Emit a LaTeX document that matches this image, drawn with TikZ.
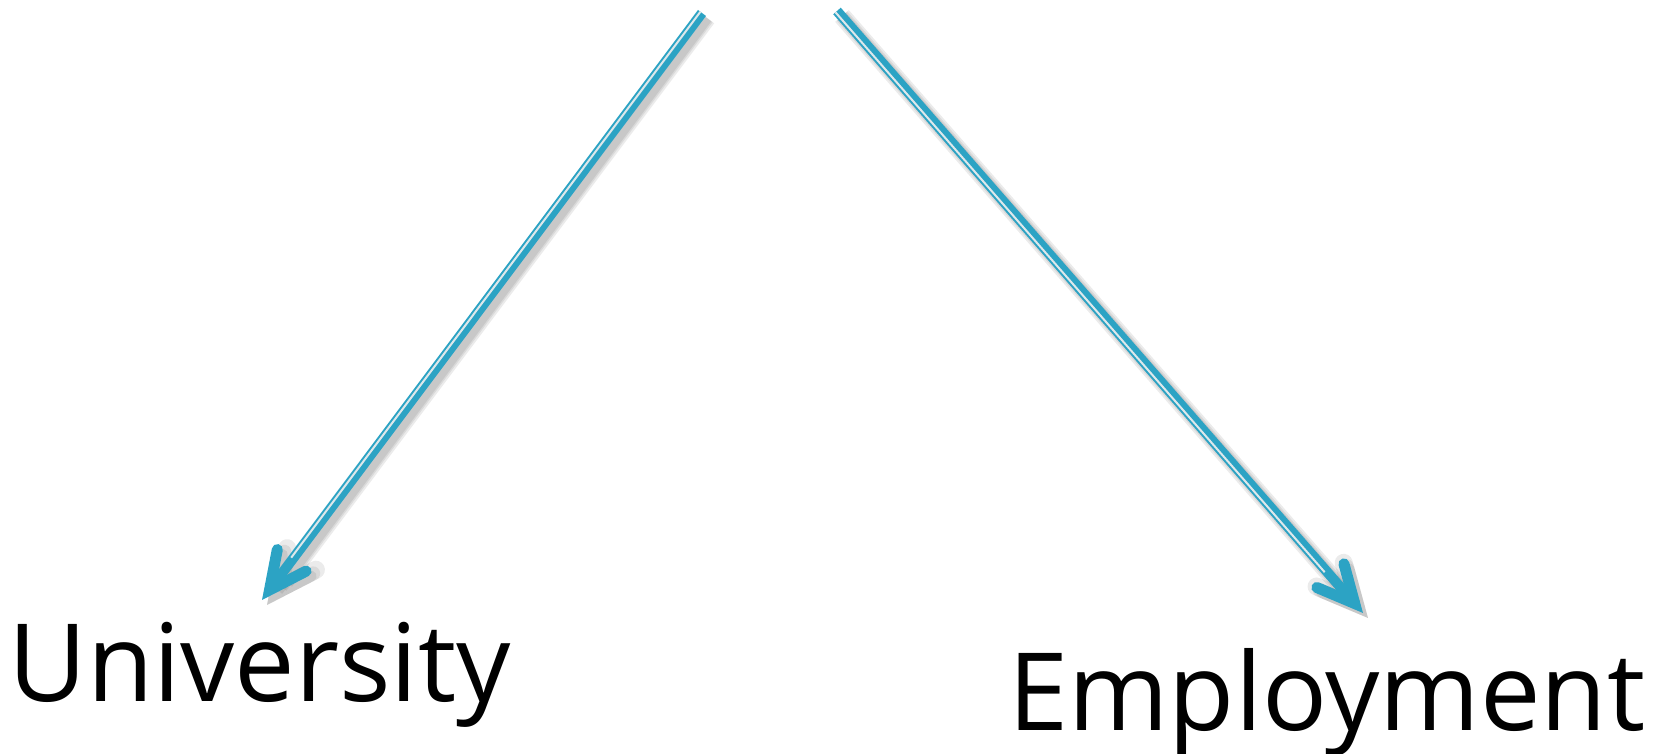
\documentclass[tikz,border=0pt]{standalone}
\usepackage{fontspec}
\setmainfont{Open Sans}
\usetikzlibrary{arrows.meta,calc}
\definecolor{arrowblue}{RGB}{44,163,196}
\definecolor{gapgray}{RGB}{222,232,235}
\tikzset{
  flow/.style={draw=arrowblue, line width=5pt,
    -{Straight Barb[length=18.5pt, width=18pt, line width=5.5pt, line cap=round, line join=miter]}},
  flowshadow/.style={draw=black, opacity=0.08, line width=#1,
    -{Straight Barb[length=18.5pt, width=18pt, line width=#1, line cap=round, line join=miter]}},
  gap/.style={draw=gapgray, line width=1pt},
  label/.style={font=\fontsize{54}{60}\selectfont, inner sep=0pt, anchor=base west}
}
\begin{document}
\begin{tikzpicture}[x=0.5pt, y=0.5pt]
\useasboundingbox (0,0) rectangle (1667,754);
\node[label] (uni) at (8,52) {University};
\node[label] (emp) at (1008,23) {Employment};
\coordinate (ls) at (702,741);
\coordinate (lt) at (262,154);
\coordinate (rs) at (837,743);
\coordinate (rt) at (1363,141);
% soft shadows
\foreach \w in {9pt,7pt,5.5pt}{
  \draw[flowshadow=\w, transform canvas={shift={(2.5pt,-2.5pt)}}] (ls) -- (lt);
  \draw[flowshadow=\w, transform canvas={shift={(2.5pt,-2.5pt)}}] (rs) -- (rt);
}
% arrows
\draw[flow] (ls) -- (lt);
\draw[flow] (rs) -- (rt);
% inner gap lines
\draw[gap, transform canvas={shift={(-0.8pt,0.6pt)}}] (ls) -- ($(ls)!0.93!(lt)$);
\draw[gap, transform canvas={shift={(-0.75pt,-0.66pt)}}] (rs) -- ($(rs)!0.93!(rt)$);
\end{tikzpicture}
\end{document}
